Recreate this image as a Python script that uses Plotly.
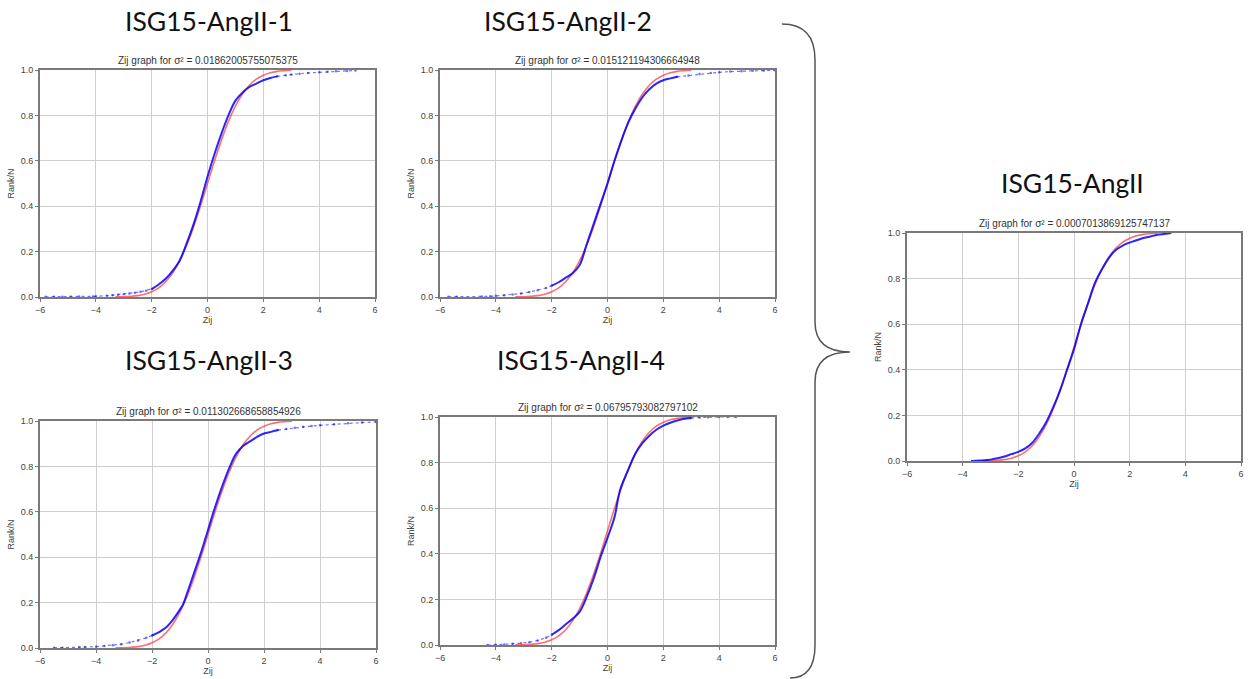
import plotly.graph_objects as go

W, H = 1251, 679

# ---------------- data ----------------
X_TICKS = [-6, -4, -2, 0, 2, 4, 6]
Y_TICKS = [0.0, 0.2, 0.4, 0.6, 0.8, 1.0]

# theoretical (red) curve
RED_Z = [-3.3, -3.0, -2.75, -2.5, -2.25, -2.0, -1.75, -1.5, -1.25, -1.0, -0.75, -0.5, -0.25,
         0.0, 0.25, 0.5, 0.75, 1.0, 1.25, 1.5, 1.75, 2.0, 2.25, 2.5, 2.75, 3.0]
RED_P = [0.0005, 0.0013, 0.003, 0.006, 0.012, 0.023, 0.040, 0.067, 0.106, 0.159, 0.227, 0.309, 0.401,
         0.5, 0.599, 0.691, 0.773, 0.841, 0.894, 0.933, 0.960, 0.977, 0.988, 0.994, 0.997, 0.999]

# sample 1
B1_X = [-2.0, -1.75, -1.5, -1.25, -1.0, -0.75, -0.5, -0.25, 0.0, 0.25, 0.5, 0.75, 1.0, 1.25, 1.5, 1.75, 2.0, 2.25, 2.5]
B1_Y = [0.035, 0.055, 0.08, 0.115, 0.16, 0.235, 0.32, 0.42, 0.53, 0.63, 0.72, 0.80, 0.865, 0.9, 0.925, 0.94, 0.955, 0.965, 0.972]
B1_LX = [-5.8, -5.5, -5.2, -4.9, -4.6, -4.1, -4.0, -3.6, -3.4, -3.2, -3.0, -2.8, -2.6, -2.4, -2.2, -2.0]
B1_LY = [0.001, 0.001, 0.001, 0.002, 0.002, 0.002, 0.003, 0.006, 0.008, 0.010, 0.012, 0.015, 0.019, 0.023, 0.028, 0.035]
B1_RX = [2.5, 2.8, 3.0, 3.3, 3.6, 4.0, 4.3, 4.6, 5.0, 5.3]
B1_RY = [0.972, 0.977, 0.98, 0.984, 0.987, 0.99, 0.992, 0.994, 0.996, 0.998]

# sample 2
B2_X = [-2.0, -1.75, -1.5, -1.25, -1.0, -0.9, -0.75, -0.5, -0.25, 0.0, 0.25, 0.5, 0.75, 1.0, 1.25, 1.5, 1.75, 2.0, 2.25, 2.5]
B2_Y = [0.05, 0.065, 0.085, 0.105, 0.14, 0.17, 0.23, 0.32, 0.41, 0.5, 0.6, 0.69, 0.77, 0.83, 0.88, 0.915, 0.94, 0.955, 0.963, 0.97]
B2_LX = [-5.7, -5.4, -4.5, -4.2, -4.0, -3.7, -3.4, -3.1, -2.8, -2.5, -2.2, -2.0]
B2_LY = [0.001, 0.001, 0.002, 0.003, 0.005, 0.008, 0.011, 0.015, 0.022, 0.03, 0.04, 0.05]
B2_RX = [2.5, 2.9, 3.3, 3.7, 4.0, 4.4, 4.8, 5.2, 5.6, 6.0]
B2_RY = [0.97, 0.976, 0.982, 0.987, 0.99, 0.993, 0.995, 0.997, 0.998, 0.999]

# sample 3
B3_X = [-2.0, -1.75, -1.5, -1.25, -1.0, -0.9, -0.75, -0.5, -0.25, 0.0, 0.25, 0.5, 0.75, 1.0, 1.25, 1.5, 1.75, 2.0, 2.25, 2.5]
B3_Y = [0.055, 0.07, 0.09, 0.125, 0.17, 0.19, 0.24, 0.33, 0.42, 0.52, 0.62, 0.71, 0.79, 0.855, 0.89, 0.91, 0.93, 0.945, 0.952, 0.96]
B3_LX = [-5.5, -5.2, -4.6, -4.4, -4.0, -3.7, -3.4, -3.1, -2.8, -2.5, -2.2, -2.0]
B3_LY = [0.001, 0.001, 0.003, 0.004, 0.006, 0.009, 0.012, 0.017, 0.024, 0.033, 0.045, 0.055]
B3_RX = [2.5, 2.8, 3.1, 3.4, 3.7, 4.0, 4.5, 5.0, 5.5, 6.0]
B3_RY = [0.96, 0.965, 0.97, 0.975, 0.978, 0.981, 0.986, 0.99, 0.993, 0.996]

# sample 4
B4_X = [-2.0, -1.75, -1.5, -1.25, -1.0, -0.75, -0.5, -0.25, 0.0, 0.25, 0.45, 0.75, 1.0, 1.25, 1.5, 1.75, 2.0, 2.25, 2.5, 2.75, 3.0]
B4_Y = [0.045, 0.065, 0.09, 0.115, 0.145, 0.21, 0.29, 0.385, 0.47, 0.56, 0.68, 0.77, 0.84, 0.885, 0.918, 0.944, 0.962, 0.975, 0.985, 0.992, 0.996]
B4_LX = [-4.3, -4.0, -3.7, -3.4, -3.1, -2.8, -2.5, -2.2, -2.0]
B4_LY = [0.0, 0.001, 0.002, 0.005, 0.008, 0.012, 0.02, 0.032, 0.045]
B4_RX = [3.0, 3.3, 3.6, 4.0, 4.3, 4.6]
B4_RY = [0.996, 0.998, 0.999, 1.0, 1.0, 1.0]

# pooled
B5_X = [-3.7, -3.4, -3.0, -2.75, -2.5, -2.25, -2.0, -1.75, -1.5, -1.25, -1.0, -0.75, -0.5, -0.25, 0.0,
        0.25, 0.5, 0.75, 1.0, 1.25, 1.5, 1.75, 2.0, 2.25, 2.5, 2.75, 3.0, 3.25, 3.5]
B5_Y = [0.0, 0.002, 0.006, 0.012, 0.02, 0.03, 0.04, 0.055, 0.08, 0.12, 0.17, 0.235, 0.31, 0.4, 0.49,
        0.6, 0.69, 0.78, 0.84, 0.89, 0.925, 0.945, 0.958, 0.968, 0.978, 0.985, 0.992, 0.996, 1.0]

TITLES = ["ISG15-AngII-1", "ISG15-AngII-2", "ISG15-AngII-3", "ISG15-AngII-4", "ISG15-AngII"]
SIGMA2 = ["0.01862005755075375", "0.015121194306664948", "0.011302668658854926",
          "0.06795793082797102", "0.0007013869125747137"]

# ---------------- layout helpers ----------------
def fx(p):
    return p / W

def fy(p):
    return 1 - p / H

# plot boxes in pixels (left, top, right, bottom) and title centre positions
BOXES = [(40, 70, 375, 297), (440, 70, 775, 297), (40, 421, 376, 648),
         (440, 417, 775, 645), (907, 233, 1241, 461)]
TITLE_POS = [(209, 21), (568, 21), (209, 360), (581, 360), (1072, 183)]

SAMPLES = [
    (B1_X, B1_Y, B1_LX, B1_LY, B1_RX, B1_RY),
    (B2_X, B2_Y, B2_LX, B2_LY, B2_RX, B2_RY),
    (B3_X, B3_Y, B3_LX, B3_LY, B3_RX, B3_RY),
    (B4_X, B4_Y, B4_LX, B4_LY, B4_RX, B4_RY),
    (B5_X, B5_Y, None, None, None, None),
]

fig = go.Figure()
annotations = []
BLUE = "rgba(0,0,255,0.85)"
BLUE_T = "rgba(0,0,255,0.55)"
RED = "rgba(255,60,60,0.75)"
AX_FONT = dict(family="Liberation Sans, Arial, sans-serif", size=9, color="#444")

for i, (box, samp) in enumerate(zip(BOXES, SAMPLES)):
    n = "" if i == 0 else str(i + 1)
    xa, ya = "x" + n, "y" + n
    bx, by, lx, ly, rx, ry = samp
    if lx is not None:
        fig.add_trace(go.Scatter(x=lx, y=ly, xaxis=xa, yaxis=ya, mode="lines+markers",
                                 line=dict(color=BLUE_T, width=1.2, dash="dot"),
                                 marker=dict(size=2.5, color=BLUE_T), showlegend=False))
        fig.add_trace(go.Scatter(x=rx, y=ry, xaxis=xa, yaxis=ya, mode="lines+markers",
                                 line=dict(color=BLUE_T, width=1.2, dash="dot"),
                                 marker=dict(size=2.5, color=BLUE_T), showlegend=False))
    fig.add_trace(go.Scatter(x=RED_Z, y=RED_P, xaxis=xa, yaxis=ya, mode="lines",
                             line=dict(color=RED, width=1.6, shape="spline"), showlegend=False))
    fig.add_trace(go.Scatter(x=bx, y=by, xaxis=xa, yaxis=ya, mode="lines",
                             line=dict(color=BLUE, width=2, shape="spline"), showlegend=False))

    l, t, r, b = box
    common = dict(showline=True, mirror=True, linecolor="#7a7a7a", linewidth=2,
                  showgrid=True, gridcolor="#cfcfcf", gridwidth=1, zeroline=False,
                  automargin=False, ticks="outside", ticklen=3, tickcolor="#7a7a7a",
                  tickfont=AX_FONT)
    fig.update_layout({
        "xaxis" + n: dict(domain=[fx(l), fx(r)], range=[-6, 6], tickvals=X_TICKS,
                          anchor=ya, title=dict(text="Zij", font=AX_FONT, standoff=2), **common),
        "yaxis" + n: dict(domain=[fy(b), fy(t)], range=[0, 1], tickvals=Y_TICKS, tickformat=".1f",
                          anchor=xa, title=dict(text="Rank/N", font=AX_FONT, standoff=5), **common),
    })
    annotations.append(dict(x=fx((l + r) / 2), y=fy(t), xref="paper", yref="paper",
                            xanchor="center", yanchor="bottom", yshift=2, showarrow=False,
                            text="Zij graph for σ² = " + SIGMA2[i],
                            font=dict(family="Liberation Sans, Arial, sans-serif", size=10, color="#333")))
    tx, ty = TITLE_POS[i]
    annotations.append(dict(x=fx(tx), y=fy(ty), xref="paper", yref="paper",
                            xanchor="center", yanchor="middle", showarrow=False,
                            text=TITLES[i], font=dict(family="Lato, Open Sans, sans-serif", size=26.5, color="#111")))

# curly brace joining the four samples to the pooled plot
brace_pts = "M {a},{b} Q {c},{b} {c},{d} L {c},{e} Q {c},{f} {g},{f} Q {c},{f} {c},{h} L {c},{i} Q {c},{j} {k},{j}".format(
    a=fx(782), b=fy(24), c=fx(815), d=fy(60), e=fy(322), f=fy(352), g=fx(850),
    h=fy(382), i=fy(645), j=fy(678), k=fx(790))

fig.update_layout(
    width=W, height=H, autosize=False,
    margin=dict(l=0, r=0, t=0, b=0, autoexpand=False),
    paper_bgcolor="white", plot_bgcolor="white",
    showlegend=False,
    annotations=annotations,
    shapes=[dict(type="path", path=brace_pts, xref="paper", yref="paper",
                 line=dict(color="#555", width=1.5))],
)

fig.write_html("out.html", config={"displayModeBar": False},
               post_script="document.body.style.margin='0';document.body.style.overflow='hidden';")
